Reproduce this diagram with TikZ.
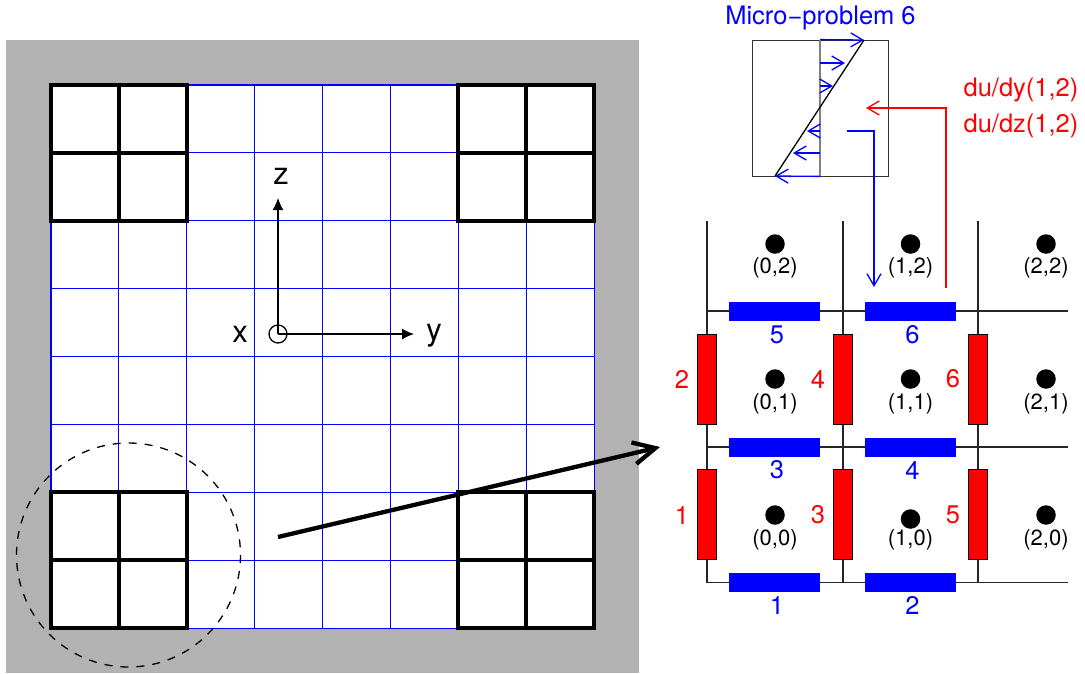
\documentclass[tikz,border=0pt]{standalone}
\usepackage{fontspec}
\usepackage{xcolor}
\setmainfont{TeX Gyre Heros}
\usetikzlibrary{arrows.meta,positioning}
\definecolor{ink}{HTML}{000000}
\definecolor{wallgray}{HTML}{B2B2B2}
\definecolor{meshblue}{HTML}{0000FF}
\definecolor{edgered}{HTML}{FF0000}
\tikzset{
  cellbox/.style={draw=ink,line width=3.1pt},
  cellboxheavy/.style={draw=ink,line width=4.8pt},
  meshline/.style={draw=meshblue,line width=1.1pt},
  wire/.style={draw=ink!85,line width=1.4pt},
  hbar/.style={fill=meshblue,minimum width=91pt,minimum height=19pt,inner sep=0pt},
  vbar/.style={draw=ink,fill=edgered,line width=0.8pt,minimum width=18.5pt,minimum height=90.5pt,inner sep=0pt},
  dot/.style={circle,fill=ink,minimum size=19.5pt,inner sep=0pt},
  cellname/.style={font=\fontsize{22}{25}\selectfont,inner sep=0pt},
  bluelabel/.style={font=\fontsize{25.5}{28}\selectfont,text=meshblue,inner sep=0pt},
  redlabel/.style={font=\fontsize{25.5}{28}\selectfont,text=edgered,inner sep=0pt},
  axislabel/.style={font=\fontsize{31}{34}\selectfont,inner sep=0pt},
  axisarr/.style={-{Latex[length=12pt,width=11pt]},line width=1.3pt},
  openblue/.style={-{Straight Barb[length=12pt,width=14pt]},draw=meshblue,line width=1.3pt},
  openred/.style={-{Straight Barb[length=12pt,width=14pt]},draw=edgered,line width=1.3pt}
}
\begin{document}
\begin{tikzpicture}[x=1pt,y=-1pt]
      \useasboundingbox (0,0) rectangle (1085,673);
      % wall and mesh
      \fill[wallgray] (6,40) rectangle (639,673);
      \fill[white] (51,85) rectangle (594,628);
      \draw[meshline,xstep=67.9pt,ystep=67.9pt,shift={(51pt,-85pt)}] (0,0) grid (543.3,543.3);

      \draw[cellbox] (51,85) rectangle (187,221) (119,85)--(119,221) (51,153)--(187,153);
      \draw[cellbox] (458,85) rectangle (594,221) (526,85)--(526,221) (458,153)--(594,153);
      \draw[cellbox] (458,492) rectangle (594,628) (526,492)--(526,628) (458,560)--(594,560);
      \draw[cellboxheavy] (51,492) rectangle (187,628) (119,492)--(119,628) (51,560)--(187,560);
      \draw[line width=1.3pt,dash pattern=on 8pt off 8pt] (128.5,555) circle (112);

      % axes
      \node[circle,draw=ink,line width=1.3pt,minimum size=18pt,inner sep=0pt] (origin) at (278,334) {};
      \coordinate (ztip) at (278,198);
      \coordinate (ytip) at (414,334);
      \draw[axisarr] (origin.center)--(ztip);
      \draw[axisarr] (origin.center)--(ytip);
      \node[axislabel] (zname) at (281,176) {z};
      \node[axislabel] (xname) at (240,334) {x};
      \node[axislabel] (yname) at (434,336) {y};

      % zoomed cells
      \coordinate (zoomfrom) at (278,537);
      \coordinate (zoomto) at (660,447);
      \draw[-{Straight Barb[length=22pt,width=22pt]},line width=4.3pt] (zoomfrom)--(zoomto);

      \draw[wire] (707,221)--(707,582.5)--(1068,582.5);
      \draw[wire] (843,221)--(843,582.5);
      \draw[wire] (978,221)--(978,582.5);
      \draw[wire] (707,311)--(1068,311);
      \draw[wire] (707,447)--(1068,447);

      \node[hbar] (h1) at (774.5,582.5) {};
      \node[hbar] (h2) at (910.5,582.5) {};
      \node[hbar] (h3) at (774.5,447) {};
      \node[hbar] (h4) at (910.5,447) {};
      \node[hbar] (h5) at (774.5,311.5) {};
      \node[hbar] (h6) at (910.5,311.5) {};
      \node[bluelabel] (hn1) at (777,605) {1};
      \node[bluelabel] (hn2) at (912.5,605) {2};
      \node[bluelabel] (hn3) at (777,470) {3};
      \node[bluelabel] (hn4) at (912.5,470) {4};
      \node[bluelabel] (hn5) at (777,335) {5};
      \node[bluelabel] (hn6) at (912.5,335) {6};

      \node[vbar] (v1) at (707,514.5) {};
      \node[vbar] (v2) at (707,379.5) {};
      \node[vbar] (v3) at (843,514.5) {};
      \node[vbar] (v4) at (843,379.5) {};
      \node[vbar] (v5) at (978,514.5) {};
      \node[vbar] (v6) at (978,379.5) {};
      \node[redlabel] (vn1) at (682,515) {1};
      \node[redlabel] (vn2) at (682,379) {2};
      \node[redlabel] (vn3) at (818,515) {3};
      \node[redlabel] (vn4) at (818,379) {4};
      \node[redlabel] (vn5) at (953,515) {5};
      \node[redlabel] (vn6) at (953,379) {6};

      \node[dot] (c00) at (775,515) {};
      \node[dot] (c10) at (910.5,519) {};
      \node[dot] (c20) at (1046,515) {};
      \node[dot] (c01) at (775,379) {};
      \node[dot] (c11) at (910.5,379) {};
      \node[dot] (c21) at (1046,379) {};
      \node[dot] (c02) at (775,244) {};
      \node[dot] (c12) at (910.5,244) {};
      \node[dot] (c22) at (1046,244) {};
      \node[cellname] (n00) at (775,540) {(0,0)};
      \node[cellname] (n10) at (910.5,540) {(1,0)};
      \node[cellname] (n20) at (1046,540) {(2,0)};
      \node[cellname] (n01) at (775,404) {(0,1)};
      \node[cellname] (n11) at (910.5,404) {(1,1)};
      \node[cellname] (n21) at (1046,404) {(2,1)};
      \node[cellname] (n02) at (775,268) {(0,2)};
      \node[cellname] (n12) at (910.5,268) {(1,2)};
      \node[cellname] (n22) at (1046,268) {(2,2)};

      % micro-problem
      \node[draw=ink!80,line width=0.8pt,minimum width=136pt,minimum height=136pt,inner sep=0pt] (micro) at (820,108) {};
      \draw[ink!50,line width=1.5pt] (micro.north)--(micro.south);
      \coordinate (sheartop) at (864,40);
      \coordinate (shearbot) at (775,176);
      \draw[line width=1.3pt] (shearbot)--(sheartop);
      \draw[openblue] (micro.north)--(sheartop);
      \draw[openblue] (820,63)--(845,63);
      \draw[openblue] (820,86)--(833,86);
      \draw[openblue] (820,131)--(807,131);
      \draw[openblue] (820,153)--(793,153);
      \draw[openblue] (micro.south)--(shearbot);
      \node[bluelabel] (microname) at (820.5,18) {Micro−problem 6};
      \node[redlabel] (dudy) at (1021,90) {du/dy(1,2)};
      \node[redlabel] (dudz) at (1021,126) {du/dz(1,2)};

      \coordinate (sendfrom) at (847,131);
      \coordinate (sendto) at (874,287);
      \coordinate (backfrom) at (946,288);
      \coordinate (backto) at (866,108);
      \draw[openblue] (sendfrom)-|(sendto);
      \draw[openred] (backfrom)|-(backto);
    \end{tikzpicture}
\end{document}
